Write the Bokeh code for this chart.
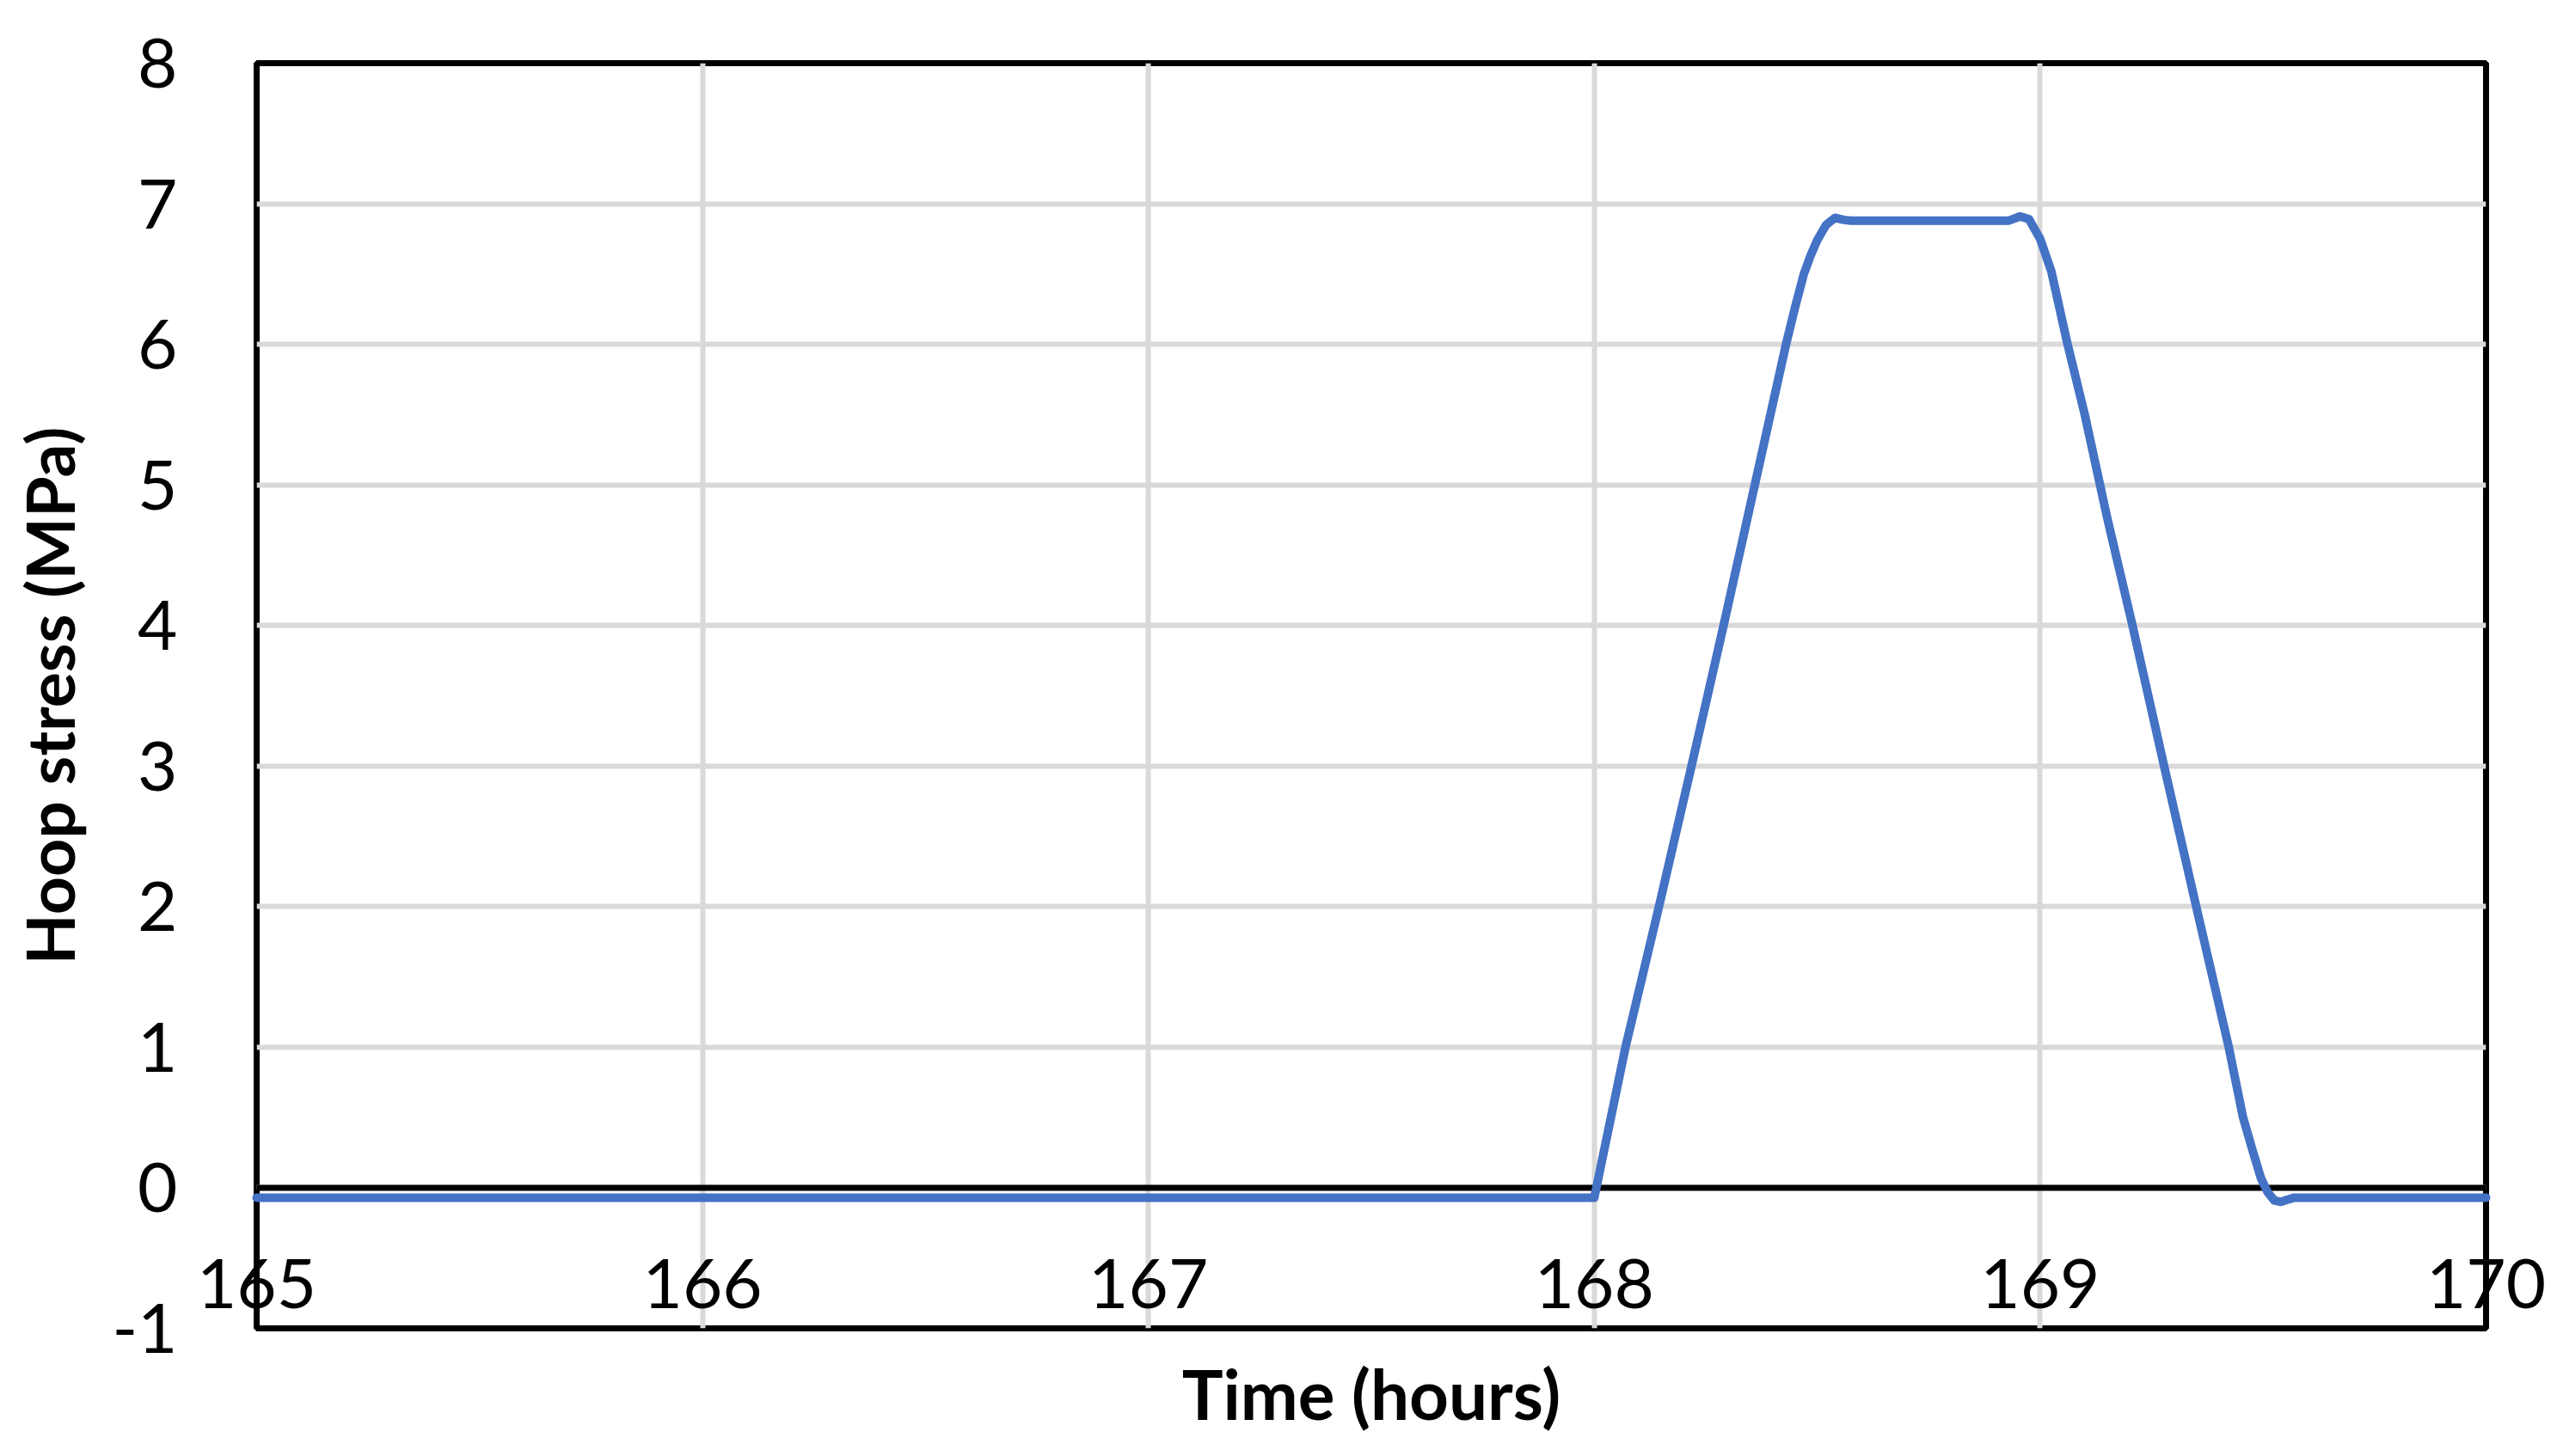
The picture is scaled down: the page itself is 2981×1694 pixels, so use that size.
from bokeh.plotting import figure
from bokeh.models import Range1d, FixedTicker, Title, Span
from bokeh.embed import file_html
from bokeh.resources import INLINE

# ---- data ----
time_hours = [165.0, 168.0, 168.07, 168.145, 168.218, 168.29, 168.36, 168.43, 168.45, 168.47,
              168.485, 168.50, 168.52, 168.54, 168.56, 168.575, 168.93, 168.955, 168.975, 169.0,
              169.025, 169.06, 169.10, 169.15, 169.207, 169.278, 169.35, 169.423, 169.455,
              169.475, 169.495, 169.51, 169.525, 169.54, 169.555, 169.57, 170.0]
hoop_stress = [-0.07, -0.07, 1.0, 2.0, 3.0, 4.0, 5.0, 6.0, 6.26, 6.5,
               6.63, 6.74, 6.85, 6.90, 6.885, 6.88, 6.88, 6.91, 6.89, 6.75,
               6.52, 6.02, 5.5, 4.77, 4.0, 3.0, 2.0, 1.0, 0.5,
               0.28, 0.07, -0.03, -0.09, -0.10, -0.085, -0.07, -0.07]
x_ticks = [165, 166, 167, 168, 169, 170]
y_ticks = [-1, 0, 1, 2, 3, 4, 5, 6, 7, 8]

FONT = "Lato"

p = figure(frame_width=2593, frame_height=1472,
           x_range=Range1d(165, 170), y_range=Range1d(-1, 8),
           output_backend="svg", toolbar_location=None,
           min_border_left=298, min_border_top=73, min_border_right=74, min_border_bottom=120,
           background_fill_color="white", border_fill_color="white")

p.outline_line_color = "black"
p.outline_line_width = 7

# grid
p.xgrid.ticker = FixedTicker(ticks=x_ticks)
p.ygrid.ticker = FixedTicker(ticks=y_ticks)
p.grid.grid_line_color = "#d9d9d9"
p.grid.grid_line_width = 6

# horizontal axis line crossing at y = 0
p.add_layout(Span(location=0, dimension="width", line_color="black", line_width=7))

# x tick labels: shown just below the y = 0 line (inside the frame, as in the original)
xa = p.xaxis[0]
xa.ticker = FixedTicker(ticks=x_ticks)
xa.axis_line_color = None
xa.major_tick_line_color = None
xa.minor_tick_line_color = None
xa.major_label_standoff = -87
xa.major_label_text_font = FONT
xa.major_label_text_font_size = "80px"
xa.major_label_text_color = "black"

# y axis
ya = p.yaxis[0]
ya.ticker = FixedTicker(ticks=y_ticks)
ya.major_label_overrides = {-1: "-1"}
ya.axis_line_color = None
ya.major_tick_line_color = None
ya.minor_tick_line_color = None
ya.major_label_standoff = 86
ya.major_label_text_font = FONT
ya.major_label_text_font_size = "80px"
ya.major_label_text_color = "black"
ya.axis_label = "Hoop stress (MPa)"
ya.axis_label_text_font = FONT
ya.axis_label_text_font_size = "77px"
ya.axis_label_text_font_style = "bold"
ya.axis_label_text_color = "black"
ya.axis_label_standoff = 24

p.add_layout(Title(text="Time (hours)", align="center", text_font=FONT,
                   text_font_size="80px", text_font_style="bold",
                   text_color="black", standoff=50), "below")

p.line(time_hours, hoop_stress, line_color="#4472C4", line_width=10,
       line_join="round", line_cap="round", level="overlay")

open("out.html", "w").write(file_html(p, INLINE))
